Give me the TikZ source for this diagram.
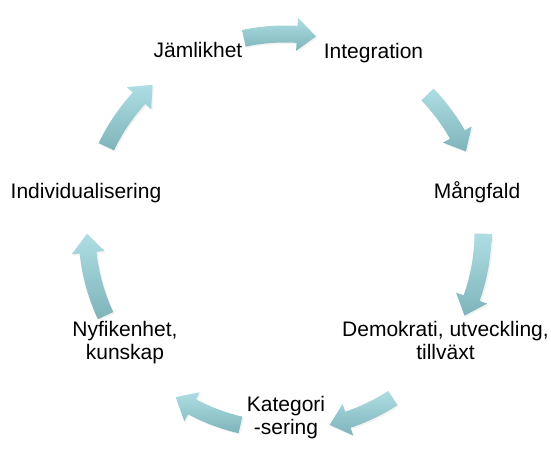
\documentclass[tikz,border=0pt]{standalone}
\usepackage{fontspec}
\setmainfont{Liberation Sans}
\usepackage{tikz}
\usetikzlibrary{shadows}

\definecolor{arrowlight}{RGB}{174,222,227}
\definecolor{arrowdark}{RGB}{126,180,186}

\begin{document}
\begin{tikzpicture}[x=1pt,y=1pt]
			\tikzstyle{stage} = [align=center,anchor=base,inner sep=0pt,font=\fontsize{21}{23}\selectfont]
			\tikzstyle{cyclearrow} = [top color=arrowlight,bottom color=arrowdark,drop shadow={opacity=0.1,shadow xshift=1.5pt,shadow yshift=-1.5pt}]
			
			\useasboundingbox (0,0) rectangle (551,462);
			
			\node[stage] (jaemlikhet) at (198,404) {Jämlikhet};
			\node[stage] (integration) at (373.5,403) {Integration};
			\node[stage] (mangfald) at (477,263) {Mångfald};
			\node[stage] (demokrati) at (445.5,102) {Demokrati, utveckling,\\tillväxt};
			\node[stage] (kategorisering) at (286,27) {Kategori\\-sering};
			\node[stage] (nyfikenhet) at (125,102) {Nyfikenhet,\\kunskap};
			\node[stage] (individ) at (86,263) {Individualisering};
			
			% curved block arrows round the cycle
			\begin{scope}[shift={(285,230)}]
				\foreach \a/\b [evaluate=\b as \m using \b+5.5] in {102/81,44/24,-0.5/-25,-57/-77,-103/-123.5,205/180.5,154.5/132}
				\path[cyclearrow] (\a:206.5) arc[start angle=\a,end angle=\m,radius=206.5] -- (\m:214.5) -- (\b:198) -- (\m:181.5) -- (\m:189.5) arc[start angle=\m,end angle=\a,radius=189.5] -- cycle;
			\end{scope}
		\end{tikzpicture}
\end{document}
